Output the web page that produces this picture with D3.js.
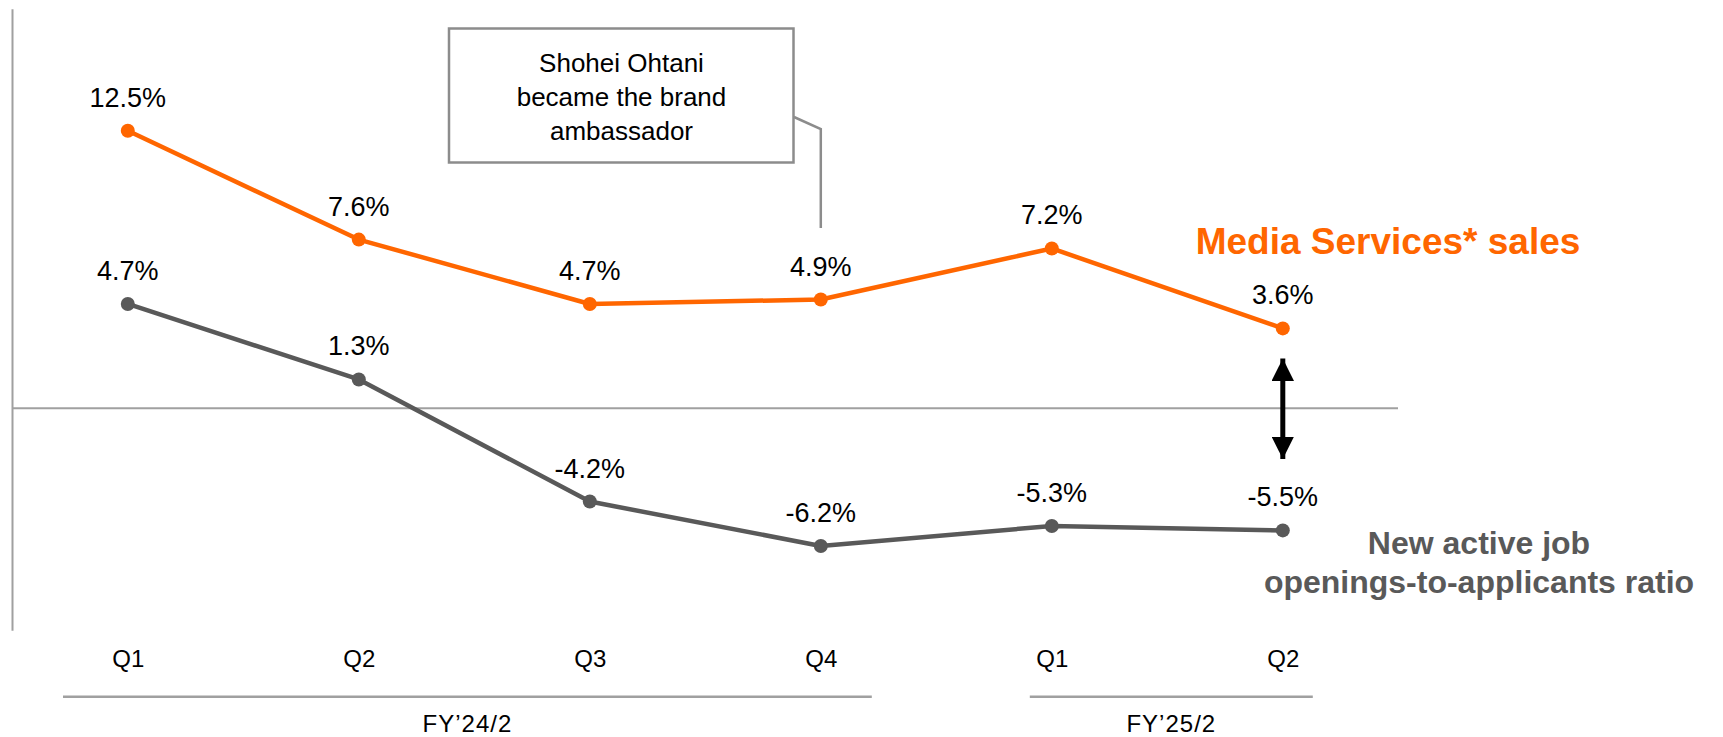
<!DOCTYPE html>
<html>
<head>
<meta charset="utf-8">
<script src="https://cdn.jsdelivr.net/npm/d3@7"></script>
<style>
  body { margin: 0; background: #fff; }
  svg { display: block; font-family: "Liberation Sans", Arial, sans-serif; }
</style>
</head>
<body>
<svg></svg>
<script>
var quarters = ["Q1", "Q2", "Q3", "Q4", "Q1", "Q2"];
var mediaSales = [12.5, 7.6, 4.7, 4.9, 7.2, 3.6];
var jobRatio = [4.7, 1.3, -4.2, -6.2, -5.3, -5.5];
var fiscalYears = ["FY\u201924/2", "FY\u201925/2"];
var fiscalStart = [0, 4];
var fiscalEnd = [3, 5];
var noteLines = ["Shohei Ohtani", "became the brand", "ambassador"];

var width = 1723;
var height = 737;
var orange = "#ff6600";
var darkGray = "#595959";
var axisGray = "#a0a0a0";

var svg = d3.select("svg")
    .attr("width", width)
    .attr("height", height);

var xScale = d3.scaleLinear()
    .domain([0, quarters.length - 1])
    .range([127.8, 1282.8]);

var yScale = d3.scaleLinear()
    .domain([-10, 18])
    .range([630.3, 8.7]);

// y axis (line only)
svg.append("g")
    .attr("transform", "translate(12, 0)")
    .call(d3.axisLeft(yScale).tickValues([]).tickSizeOuter(0))
    .select(".domain")
      .attr("stroke", axisGray)
      .attr("stroke-width", 2);

// zero line
svg.append("line")
    .attr("x1", 12)
    .attr("x2", 1398)
    .attr("y1", yScale(0))
    .attr("y2", yScale(0))
    .attr("stroke", axisGray)
    .attr("stroke-width", 2);

// quarter labels
var xAxis = svg.append("g")
    .attr("transform", "translate(0, 650)")
    .call(d3.axisBottom(xScale)
      .tickValues(d3.range(quarters.length))
      .tickFormat(i => quarters[i])
      .tickSize(0)
      .tickPadding(0));
xAxis.select(".domain").remove();
xAxis.selectAll("text")
    .attr("font-family", "Liberation Sans, Arial, sans-serif")
    .attr("font-size", 24)
    .attr("fill", "#000");

// fiscal year brackets
var bracketPad = [[-64.8, 51], [-22, 30]];
fiscalYears.forEach(function(fy, i) {
  var x1 = xScale(fiscalStart[i]) + bracketPad[i][0];
  var x2 = xScale(fiscalEnd[i]) + bracketPad[i][1];
  svg.append("line")
      .attr("x1", x1).attr("x2", x2)
      .attr("y1", 696.7).attr("y2", 696.7)
      .attr("stroke", axisGray)
      .attr("stroke-width", 2.5);
  svg.append("text")
      .text(fy)
      .attr("x", (x1 + x2) / 2)
      .attr("y", 732)
      .attr("text-anchor", "middle")
      .attr("font-size", 24)
      .attr("letter-spacing", 1)
      .attr("fill", "#000");
});

// note box
svg.append("rect")
    .attr("x", 449).attr("y", 28.5)
    .attr("width", 344.5).attr("height", 134)
    .attr("fill", "#fff")
    .attr("stroke", "#8c8c8c")
    .attr("stroke-width", 2.5);
svg.append("polyline")
    .attr("points", [[794, 117], [xScale(3), 129], [xScale(3), 228]].join(" "))
    .attr("fill", "none")
    .attr("stroke", "#8c8c8c")
    .attr("stroke-width", 2.5);
svg.append("text")
    .attr("text-anchor", "middle")
    .attr("font-size", 26)
    .attr("fill", "#000")
    .selectAll("tspan")
    .data(noteLines)
    .enter()
    .append("tspan")
      .attr("x", 621.5)
      .attr("y", (d, i) => 72 + i * 34)
      .text(d => d);

// series
var line = d3.line()
    .x((d, i) => xScale(i))
    .y(d => yScale(d));

function drawSeries(values, color) {
  svg.append("path")
      .datum(values)
      .attr("d", line)
      .attr("fill", "none")
      .attr("stroke", color)
      .attr("stroke-width", 4.5)
      .attr("stroke-linejoin", "round");

  var g = svg.append("g");
  g.selectAll("circle")
    .data(values)
    .enter()
    .append("circle")
      .attr("cx", (d, i) => xScale(i))
      .attr("cy", d => yScale(d))
      .attr("r", 7)
      .attr("fill", color);

  g.selectAll("text")
    .data(values)
    .enter()
    .append("text")
      .text(d => d.toFixed(1) + "%")
      .attr("x", (d, i) => xScale(i))
      .attr("y", d => yScale(d) - 24)
      .attr("text-anchor", "middle")
      .attr("font-size", 27)
      .attr("fill", "#000");
}

drawSeries(jobRatio, darkGray);
drawSeries(mediaSales, orange);

// double arrow between the two series at last quarter
var defs = svg.append("defs");
defs.append("marker")
    .attr("id", "head")
    .attr("viewBox", "0 0 10 10")
    .attr("refX", 10).attr("refY", 5)
    .attr("markerWidth", 4.5).attr("markerHeight", 4.5)
    .attr("markerUnits", "strokeWidth")
    .attr("orient", "auto-start-reverse")
    .append("path")
      .attr("d", "M0,0 L10,5 L0,10 Z")
      .attr("fill", "#000");

var last = quarters.length - 1;
svg.append("line")
    .attr("x1", xScale(last)).attr("x2", xScale(last))
    .attr("y1", 358.5).attr("y2", 459)
    .attr("stroke", "#000")
    .attr("stroke-width", 5)
    .attr("marker-start", "url(#head)")
    .attr("marker-end", "url(#head)");

// series labels
svg.append("text")
    .text("Media Services* sales")
    .attr("x", 1388)
    .attr("y", 254)
    .attr("text-anchor", "middle")
    .attr("font-size", 37)
    .attr("font-weight", "bold")
    .attr("fill", orange);

svg.append("text")
    .attr("text-anchor", "middle")
    .attr("font-size", 32)
    .attr("font-weight", "bold")
    .attr("fill", darkGray)
    .selectAll("tspan")
    .data(["New active job", "openings-to-applicants ratio"])
    .enter()
    .append("tspan")
      .attr("x", 1479)
      .attr("y", (d, i) => 554 + i * 39)
      .text(d => d);
</script>
</body>
</html>
